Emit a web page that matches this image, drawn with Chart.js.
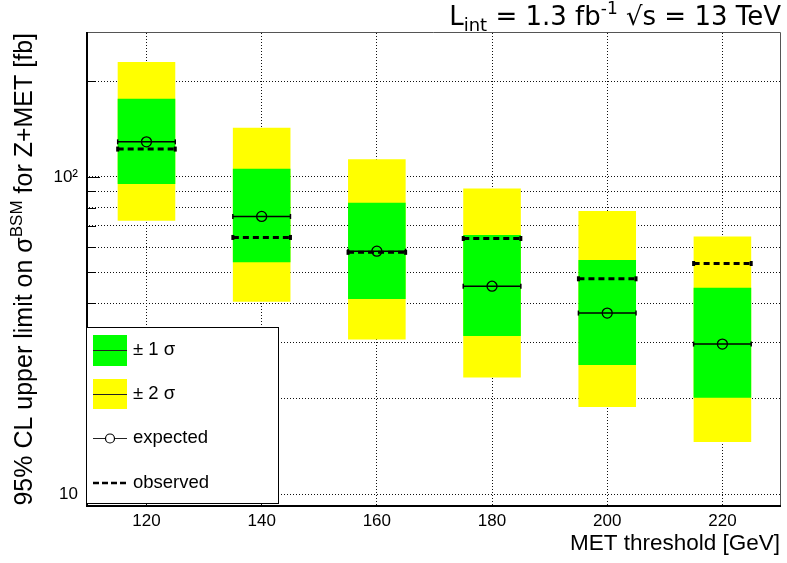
<!DOCTYPE html>
<html>
<head>
<meta charset="utf-8">
<script src="https://cdn.jsdelivr.net/npm/chart.js@4.4.1/dist/chart.umd.min.js"></script>
<style>
  html, body { margin: 0; padding: 0; background: #fff; }
  #wrap { width: 787px; height: 563px; }
</style>
</head>
<body>
<div id="wrap"><canvas id="limitChart" width="787" height="563"></canvas></div>
<script>
// MET thresholds [GeV] and limits [fb]
const thresholds = [120, 140, 160, 180, 200, 220];
const halfWidth = 5;
const expected = [128.9, 75.0, 58.3, 45.2, 37.2, 29.7];
const observed = [122.3, 64.4, 57.8, 63.9, 47.7, 53.3];
const oneSigmaLow = [95.0, 53.8, 41.2, 31.5, 25.5, 20.1];
const oneSigmaHigh = [176.1, 106.0, 82.8, 65.5, 54.7, 44.7];
const twoSigmaLow = [72.7, 40.4, 30.7, 23.3, 18.8, 14.6];
const twoSigmaHigh = [229.9, 142.7, 113.5, 91.9, 78.0, 64.9];

// axis ticks
const xTicks = [120, 140, 160, 180, 200, 220];
const yTicks = [10, 20, 30, 40, 50, 60, 70, 80, 90, 100, 200];
const yLabelValues = [10, 100];
const yLabelTexts = ['10', '10\u00B2'];

const legendLabels = ['\u00B1 1 \u03C3', '\u00B1 2 \u03C3', 'expected', 'observed'];

Chart.defaults.font.family = '"Liberation Sans", Arial, sans-serif';
Chart.defaults.color = '#000';

// horizontal segment per threshold, broken by null points
function segments(values) {
  const pts = [];
  thresholds.forEach((t, i) => {
    pts.push({ x: t - halfWidth, y: values[i] });
    pts.push({ x: t + halfWidth, y: values[i] });
    pts.push({ x: t + halfWidth, y: null });
  });
  return pts;
}

// draw a run of text pieces (sub/superscripts) starting at x
function drawRuns(ctx, runs, x, y, family) {
  let cx = x;
  runs.forEach(r => {
    ctx.font = r.size + 'px ' + family;
    ctx.fillText(r.t, cx, y + (r.dy || 0));
    cx += ctx.measureText(r.t).width;
  });
}
function runsWidth(ctx, runs, family) {
  let w = 0;
  runs.forEach(r => {
    ctx.font = r.size + 'px ' + family;
    w += ctx.measureText(r.t).width;
  });
  return w;
}

const framePlugin = {
  id: 'frame',
  afterDatasetsDraw(chart) {
    const ctx = chart.ctx;
    const a = chart.chartArea;
    const y = chart.scales.y;
    ctx.save();
    // inner ticks on the y axis
    ctx.strokeStyle = '#000';
    ctx.lineWidth = 1;
    yTicks.forEach(v => {
      const py = Math.round(y.getPixelForValue(v)) + 0.5;
      const major = Math.abs(Math.log10(v) - Math.round(Math.log10(v))) < 1e-9;
      ctx.beginPath();
      ctx.moveTo(a.left, py);
      ctx.lineTo(a.left + (major ? 14 : 10), py);
      ctx.stroke();
    });
    // top / right frame
    ctx.strokeStyle = '#555';
    ctx.beginPath();
    ctx.moveTo(a.left, a.top - 0.5);
    ctx.lineTo(a.right + 0.5, a.top - 0.5);
    ctx.lineTo(a.right + 0.5, a.bottom);
    ctx.stroke();
    // axes
    ctx.strokeStyle = '#000';
    ctx.lineWidth = 2;
    ctx.beginPath();
    ctx.moveTo(a.left + 1, a.top - 1);
    ctx.lineTo(a.left + 1, a.bottom);
    ctx.lineTo(a.right + 1, a.bottom);
    ctx.stroke();
    ctx.restore();
  },
  afterDraw(chart) {
    const ctx = chart.ctx;
    ctx.save();
    ctx.fillStyle = '#000';
    ctx.textBaseline = 'alphabetic';

    // header
    const hFam = '"DejaVu Sans", Verdana, sans-serif';
    const header = [
      { t: 'L', size: 26 },
      { t: 'int', size: 18, dy: 6 },
      { t: ' = 1.3 fb', size: 26 },
      { t: '-1', size: 17, dy: -11 },
      { t: ' \u221As = 13 TeV', size: 26 }
    ];
    drawRuns(ctx, header, 781 - runsWidth(ctx, header, hFam), 25, hFam);

    // axis titles
    const aFam = '"Liberation Sans", Arial, sans-serif';
    ctx.font = '22.5px ' + aFam;
    ctx.textAlign = 'right';
    ctx.fillText('MET threshold [GeV]', 780, 550);
    ctx.textAlign = 'left';

    const yTitle = [
      { t: '95% CL upper limit on \u03C3', size: 25 },
      { t: 'BSM', size: 17, dy: -10 },
      { t: ' for Z+MET [fb]', size: 25 }
    ];
    ctx.translate(32, 33);
    ctx.rotate(-Math.PI / 2);
    drawRuns(ctx, yTitle, -runsWidth(ctx, yTitle, aFam), 0, aFam);
    ctx.setTransform(1, 0, 0, 1, 0, 0);

    // legend box
    ctx.fillStyle = '#fff';
    ctx.fillRect(86, 328, 193, 176);
    ctx.strokeStyle = '#000';
    ctx.lineWidth = 1;
    ctx.strokeRect(86.5, 327.5, 192, 176);

    const rows = [350, 394, 438, 483];
    ctx.fillStyle = '#00ff00';
    ctx.fillRect(93, 335, 34, 31);
    ctx.fillStyle = '#ffff00';
    ctx.fillRect(93, 379, 34, 30);
    ctx.strokeStyle = '#222';
    [rows[0], rows[1], rows[2]].forEach(r => {
      ctx.beginPath();
      ctx.moveTo(93, r + 0.5);
      ctx.lineTo(127, r + 0.5);
      ctx.stroke();
    });
    ctx.fillStyle = '#fff';
    ctx.strokeStyle = '#000';
    ctx.lineWidth = 1.2;
    ctx.beginPath();
    ctx.arc(110, rows[2] + 0.5, 4.5, 0, Math.PI * 2);
    ctx.fill();
    ctx.stroke();
    ctx.lineWidth = 2.5;
    ctx.setLineDash([6, 3]);
    ctx.beginPath();
    ctx.moveTo(93, rows[3]);
    ctx.lineTo(126, rows[3]);
    ctx.stroke();
    ctx.setLineDash([]);

    ctx.fillStyle = '#000';
    ctx.font = '18.5px ' + aFam;
    ctx.textBaseline = 'middle';
    legendLabels.forEach((txt, i) => ctx.fillText(txt, 133, rows[i]));
    ctx.restore();
  }
};

const ctx = document.getElementById('limitChart').getContext('2d');

new Chart(ctx, {
  type: 'bar',
  data: {
    datasets: [
      {
        type: 'line',
        label: 'observed',
        data: segments(observed),
        borderColor: '#000',
        borderWidth: 3,
        borderDash: [6, 4],
        spanGaps: false,
        pointStyle: 'line',
        rotation: 90,
        pointRadius: 2.5,
        pointBorderWidth: 3,
        pointBorderColor: '#000',
        order: 0
      },
      {
        type: 'line',
        label: 'expected band',
        data: segments(expected),
        borderColor: '#000',
        borderWidth: 1.5,
        spanGaps: false,
        pointStyle: 'line',
        rotation: 90,
        pointRadius: 2.5,
        pointBorderWidth: 1.5,
        pointBorderColor: '#000',
        order: 1
      },
      {
        type: 'line',
        label: 'expected',
        data: thresholds.map((t, i) => ({ x: t, y: expected[i] })),
        showLine: false,
        pointStyle: 'circle',
        pointRadius: 5,
        pointBorderWidth: 1.3,
        pointBorderColor: '#000',
        pointBackgroundColor: 'rgba(0,0,0,0)',
        order: 2
      },
      {
        label: '\u00B1 1 \u03C3',
        data: thresholds.map((t, i) => ({ x: t, y: [oneSigmaLow[i], oneSigmaHigh[i]] })),
        backgroundColor: '#00ff00',
        grouped: false,
        barPercentage: 0.5,
        categoryPercentage: 1,
        order: 3
      },
      {
        label: '\u00B1 2 \u03C3',
        data: thresholds.map((t, i) => ({ x: t, y: [twoSigmaLow[i], twoSigmaHigh[i]] })),
        backgroundColor: '#ffff00',
        grouped: false,
        barPercentage: 0.5,
        categoryPercentage: 1,
        order: 4
      }
    ]
  },
  options: {
    responsive: false,
    animation: false,
    events: [],
    layout: { padding: { top: 33, right: 2, left: 0, bottom: 0 } },
    plugins: {
      legend: { display: false },
      tooltip: { enabled: false },
      title: { display: false }
    },
    scales: {
      x: {
        type: 'linear',
        min: 109.5,
        max: 230,
        offset: false,
        afterBuildTicks: s => { s.ticks = xTicks.map(v => ({ value: v })); },
        afterFit: s => { s.height = 57; },
        grid: { color: '#111', lineWidth: 1, drawTicks: false, offset: false },
        border: { display: false, dash: [1, 2] },
        ticks: { color: '#000', font: { size: 17 }, padding: 5, autoSkip: false, maxRotation: 0 }
      },
      y: {
        type: 'logarithmic',
        min: 9.17,
        max: 284,
        afterBuildTicks: s => { s.ticks = yTicks.map(v => ({ value: v })); },
        afterFit: s => { s.width = 86; },
        grid: { color: '#111', lineWidth: 1, drawTicks: false },
        border: { display: false, dash: [1, 2] },
        ticks: {
          color: '#000',
          font: { size: 17 },
          padding: 8,
          autoSkip: false,
          callback: v => {
            const k = yLabelValues.indexOf(v);
            return k < 0 ? '' : yLabelTexts[k];
          }
        }
      }
    }
  },
  plugins: [framePlugin]
});
</script>
</body>
</html>
